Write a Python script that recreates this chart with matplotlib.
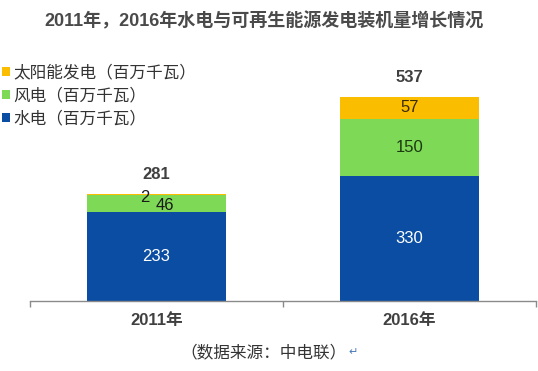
import matplotlib
matplotlib.use('Agg')
import matplotlib.pyplot as plt

plt.rcParams['font.family'] = ['Liberation Sans', 'Noto Sans CJK SC', 'DejaVu Sans']

# 数据
categories = ['2011年', '2016年']
hydro = [233, 330]
wind = [46, 150]
solar = [2, 57]
totals = [281, 537]
series_names = ['水电（百万千瓦）', '风电（百万千瓦）', '太阳能发电（百万千瓦）']
colors = ['#0a4da2', '#7ed957', '#fbbd00']

fig = plt.figure(figsize=(5.38, 3.71), dpi=100)
ax = fig.add_axes([30 / 538, 1 - 301 / 371, 506 / 538, 241 / 371])

x = [0, 1]
w = 0.553
b1 = ax.bar(x, hydro, w, color=colors[0], label=series_names[0])
b2 = ax.bar(x, wind, w, bottom=hydro, color=colors[1], label=series_names[1])
bottom3 = [h + v for h, v in zip(hydro, wind)]
b3 = ax.bar(x, solar, w, bottom=bottom3, color=colors[2], label=series_names[2])

ax.set_xlim(-0.5, 1.5)
ax.set_ylim(0, 634)

# 数值标签
for i in x:
    ax.text(i, hydro[i] / 2, str(hydro[i]), ha='center', va='center',
            color='white', fontsize=12)
    ax.text(i, totals[i] + 52, str(totals[i]), ha='center', va='center',
            color='#404040', fontsize=12, fontweight='bold')
# 2016
ax.text(1, hydro[1] + wind[1] / 2, str(wind[1]), ha='center', va='center',
        color='#1c3a10', fontsize=12)
ax.text(1, bottom3[1] + solar[1] / 2, str(solar[1]), ha='center', va='center',
        color='#3a2a05', fontsize=12)
# 2011 小数值
ax.text(-0.045, bottom3[0] - 6, str(solar[0]), ha='center', va='center',
        color='#1a1a1a', fontsize=12)
ax.text(0.035, hydro[0] + wind[0] / 2 - 6, str(wind[0]), ha='center', va='center',
        color='#1a1a1a', fontsize=12)

# 坐标轴样式
for s in ['top', 'right', 'left']:
    ax.spines[s].set_visible(False)
ax.spines['bottom'].set_color('#8a8a8a')
ax.spines['bottom'].set_linewidth(1.0)
ax.set_yticks([])
ax.set_xticks([-0.5, 0.5, 1.5])
ax.set_xticklabels([])
ax.tick_params(axis='x', length=4, color='#8a8a8a', width=1)
for i, c in enumerate(categories):
    ax.text(i, -52, c, ha='center', va='center', fontsize=12,
            fontweight='bold', color='#404040')

# 图例
handles = [b3, b2, b1]
leg = fig.legend(handles, [series_names[2], series_names[1], series_names[0]],
                 loc='upper left', bbox_to_anchor=(0.0, 1 - 63 / 371),
                 frameon=False, fontsize=12, handlelength=0.5,
                 handleheight=0.5, handletextpad=0.2, labelspacing=0.42,
                 borderaxespad=0, borderpad=0.1)
for t in leg.get_texts():
    t.set_color('#333333')

# 标题与来源
fig.text(264 / 538, 1 - 21 / 371, '2011年，2016年水电与可再生能源发电装机量增长情况',
         ha='center', va='center', fontsize=13, fontweight='bold', color='#4a4a4a')
fig.text(263 / 538, 1 - 352 / 371, '（数据来源：中电联）',
         ha='center', va='center', fontsize=12, color='#333333')
fig.text(353 / 538, 1 - 352 / 371, '↵', ha='center', va='center',
         fontsize=8, color='#4a7ab8', family='DejaVu Sans')

fig.savefig('out.png', dpi=100)
